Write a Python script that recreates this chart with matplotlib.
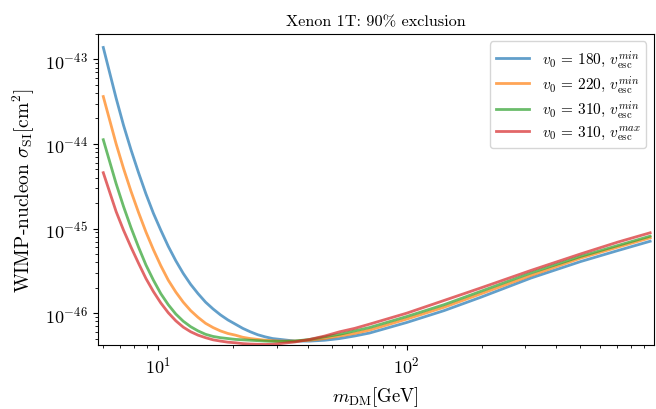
import numpy as np
import matplotlib
matplotlib.use("Agg")
import matplotlib.pyplot as plt

plt.rcParams['font.family'] = 'serif'
plt.rcParams['font.serif'] = ['cmr10']
plt.rcParams['mathtext.fontset'] = 'cm'
plt.rcParams['axes.formatter.use_mathtext'] = True

# DM mass grid [GeV]
mass = [6.0, 6.76, 7.24, 7.76, 8.32, 8.91, 9.55, 10.23, 10.96, 11.75, 12.59, 13.49, 14.45, 15.49,
        16.60, 17.78, 19.05, 20.42, 21.88, 23.44, 25.12, 26.92, 28.84, 30.90, 33.11, 35.48, 38.02,
        40.74, 43.65, 46.77, 50.12, 53.70, 61.66, 70.79, 100, 141.3, 199.5, 316.2, 501.2, 707.9, 955]

# log10 of the 90% limit on sigma_SI [cm^2]
log_v180_min = [-42.86, -43.46, -43.78, -44.07, -44.34, -44.59, -44.82, -45.02, -45.21, -45.38,
                -45.53, -45.66, -45.77, -45.87, -45.95, -46.02, -46.08, -46.13, -46.18, -46.22,
                -46.255, -46.28, -46.30, -46.31, -46.32, -46.33, -46.33, -46.33, -46.325, -46.32,
                -46.31, -46.30, -46.27, -46.235, -46.11, -45.97, -45.81, -45.585, -45.39, -45.26, -45.15]
log_v220_min = [-43.44, -44.00, -44.29, -44.56, -44.81, -45.04, -45.25, -45.44, -45.61, -45.75,
                -45.87, -45.97, -46.05, -46.12, -46.17, -46.21, -46.24, -46.26, -46.285, -46.30,
                -46.31, -46.32, -46.325, -46.33, -46.33, -46.33, -46.325, -46.32, -46.31, -46.30,
                -46.285, -46.27, -46.24, -46.20, -46.07, -45.93, -45.77, -45.555, -45.35, -45.22, -45.11]
log_v310_min = [-43.95, -44.47, -44.74, -44.99, -45.22, -45.43, -45.61, -45.77, -45.90, -46.01,
                -46.095, -46.16, -46.21, -46.25, -46.275, -46.29, -46.30, -46.31, -46.315, -46.32,
                -46.325, -46.33, -46.333, -46.335, -46.333, -46.33, -46.32, -46.31, -46.295, -46.28,
                -46.265, -46.25, -46.21, -46.17, -46.04, -45.90, -45.74, -45.525, -45.33, -45.20, -45.09]
log_v310_max = [-44.34, -44.80, -45.02, -45.22, -45.41, -45.59, -45.745, -45.88, -45.995, -46.09,
                -46.165, -46.22, -46.26, -46.29, -46.315, -46.33, -46.343, -46.35, -46.36, -46.365,
                -46.368, -46.37, -46.367, -46.36, -46.35, -46.34, -46.325, -46.31, -46.29, -46.27,
                -46.245, -46.22, -46.18, -46.13, -46.00, -45.85, -45.70, -45.495, -45.30, -45.16, -45.05]

labels = [r'$v_0 \,=\, 180$, $v_{\rm esc}^{min}$', r'$v_0 \,=\, 220$, $v_{\rm esc}^{min}$',
          r'$v_0 \,=\, 310$, $v_{\rm esc}^{min}$', r'$v_0 \,=\, 310$, $v_{\rm esc}^{max}$']
curves = [log_v180_min, log_v220_min, log_v310_min, log_v310_max]
colors = ['tab:blue', 'tab:orange', 'tab:green', 'tab:red']

fig = plt.figure(figsize=(6.56, 4.10), dpi=100)
ax = fig.add_axes([0.149, 0.156, 0.848, 0.759])

for c, lab, col in zip(curves, labels, colors):
    ax.plot(mass, 10 ** np.array(c), color=col, alpha=0.7, lw=2, label=lab)

ax.set_xscale('log')
ax.set_yscale('log')
ax.set_xlim(5.7, 990)
ax.set_ylim(4.2e-47, 2.0e-43)
ax.tick_params(labelsize=13)

ax.set_title('Xenon 1T: 90% exclusion', fontsize=11.7)
ax.set_xlabel(r'$m_{\rm DM} [\rm GeV]$', fontsize=13.5, labelpad=6)
ax.set_ylabel(r'WIMP-nucleon $\sigma_{\rm SI} [\rm cm^2]$', fontsize=14, labelpad=6)
ax.legend(loc='upper right', fontsize=11, labelspacing=0.22, handlelength=2.2)

fig.savefig('out.png', dpi=100)
